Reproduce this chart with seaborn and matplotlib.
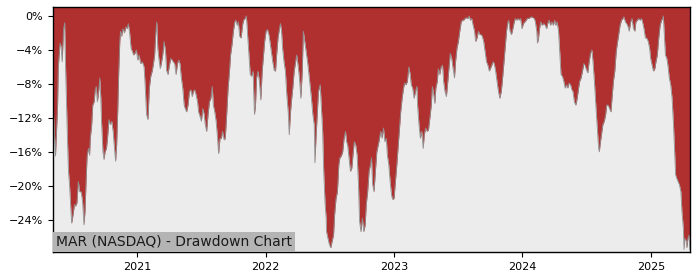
import matplotlib
matplotlib.use("Agg")
import matplotlib.pyplot as plt
import matplotlib.dates as mdates
from matplotlib.ticker import FuncFormatter, FixedLocator
import seaborn as sns
import pandas as pd

TITLE = "MAR (NASDAQ) - Drawdown Chart"

dates = [
    "2020-05-06", "2020-05-13", "2020-05-16", "2020-05-19", "2020-05-21", "2020-05-26", "2020-05-29",
    "2020-06-01", "2020-06-05", "2020-06-08", "2020-06-11", "2020-06-16", "2020-06-19", "2020-06-22",
    "2020-06-25", "2020-06-28", "2020-07-02", "2020-07-06", "2020-07-09", "2020-07-13", "2020-07-17",
    "2020-07-21", "2020-07-25", "2020-07-29", "2020-08-02", "2020-08-05", "2020-08-08", "2020-08-11",
    "2020-08-15", "2020-08-18", "2020-08-20", "2020-08-24", "2020-08-27", "2020-08-31", "2020-09-03",
    "2020-09-06", "2020-09-09", "2020-09-12", "2020-09-16", "2020-09-19", "2020-09-21", "2020-09-25",
    "2020-09-28", "2020-10-01", "2020-10-05", "2020-10-08", "2020-10-12", "2020-10-16", "2020-10-20",
    "2020-10-24", "2020-10-27", "2020-10-31", "2020-11-03", "2020-11-06", "2020-11-09", "2020-11-12",
    "2020-11-14", "2020-11-17", "2020-11-21", "2020-11-25", "2020-11-29", "2020-12-03", "2020-12-06",
    "2020-12-10", "2020-12-14", "2020-12-18", "2020-12-21", "2020-12-25", "2020-12-29",
    "2021-01-02", "2021-01-06", "2021-01-10", "2021-01-15", "2021-01-20", "2021-01-23", "2021-01-27",
    "2021-01-31", "2021-02-04", "2021-02-08", "2021-02-12", "2021-02-15", "2021-02-19", "2021-02-22",
    "2021-02-25", "2021-02-28", "2021-03-03", "2021-03-07", "2021-03-10", "2021-03-14", "2021-03-18",
    "2021-03-22", "2021-03-25", "2021-03-29", "2021-04-02", "2021-04-06", "2021-04-10", "2021-04-13",
    "2021-04-17", "2021-04-21", "2021-04-25", "2021-04-29", "2021-05-02", "2021-05-06", "2021-05-10",
    "2021-05-14", "2021-05-17", "2021-05-21", "2021-05-25", "2021-05-29", "2021-06-02", "2021-06-06",
    "2021-06-09", "2021-06-13", "2021-06-17", "2021-06-21", "2021-06-24", "2021-06-28", "2021-07-02",
    "2021-07-06", "2021-07-10", "2021-07-13", "2021-07-17", "2021-07-21", "2021-07-25", "2021-07-29",
    "2021-08-02", "2021-08-05", "2021-08-09", "2021-08-13", "2021-08-17", "2021-08-20", "2021-08-24",
    "2021-08-28", "2021-08-31", "2021-09-05", "2021-09-08", "2021-09-12", "2021-09-16", "2021-09-20",
    "2021-09-23", "2021-09-27", "2021-10-01", "2021-10-05", "2021-10-08", "2021-10-12", "2021-10-15",
    "2021-10-19", "2021-10-23", "2021-10-27", "2021-10-30", "2021-11-03", "2021-11-07", "2021-11-11",
    "2021-11-15", "2021-11-18", "2021-11-22", "2021-11-26", "2021-11-30", "2021-12-03", "2021-12-06",
    "2021-12-10", "2021-12-14", "2021-12-18", "2021-12-22", "2021-12-25", "2021-12-29",
    "2022-01-02", "2022-01-06", "2022-01-10", "2022-01-13", "2022-01-17", "2022-01-21", "2022-01-25",
    "2022-01-29", "2022-02-01", "2022-02-05", "2022-02-09", "2022-02-12", "2022-02-15", "2022-02-18",
    "2022-02-22", "2022-02-26", "2022-03-02", "2022-03-06", "2022-03-09", "2022-03-12", "2022-03-15",
    "2022-03-19", "2022-03-23", "2022-03-27", "2022-03-30", "2022-04-03", "2022-04-07", "2022-04-11",
    "2022-04-15", "2022-04-18", "2022-04-22", "2022-04-26", "2022-04-30", "2022-05-03", "2022-05-07",
    "2022-05-11", "2022-05-15", "2022-05-19", "2022-05-21", "2022-05-24", "2022-05-28", "2022-05-31",
    "2022-06-05", "2022-06-08", "2022-06-12", "2022-06-15", "2022-06-19", "2022-06-22", "2022-06-23",
    "2022-06-27", "2022-07-01", "2022-07-05", "2022-07-09", "2022-07-13", "2022-07-16", "2022-07-20",
    "2022-07-24", "2022-07-28", "2022-07-31", "2022-08-04", "2022-08-08", "2022-08-12", "2022-08-16",
    "2022-08-19", "2022-08-22", "2022-08-26", "2022-08-30", "2022-09-03", "2022-09-07", "2022-09-10",
    "2022-09-14", "2022-09-18", "2022-09-22", "2022-09-25", "2022-09-29", "2022-10-03", "2022-10-07",
    "2022-10-11", "2022-10-14", "2022-10-18", "2022-10-22", "2022-10-26", "2022-10-29", "2022-11-01",
    "2022-11-05", "2022-11-09", "2022-11-13", "2022-11-17", "2022-11-20", "2022-11-24", "2022-11-28",
    "2022-12-02", "2022-12-06", "2022-12-10", "2022-12-13", "2022-12-17", "2022-12-21", "2022-12-25",
    "2022-12-28",
    "2023-01-01", "2023-01-05", "2023-01-09", "2023-01-13", "2023-01-16", "2023-01-20", "2023-01-24",
    "2023-01-28", "2023-01-31", "2023-02-04", "2023-02-08", "2023-02-12", "2023-02-16", "2023-02-19",
    "2023-02-23", "2023-02-27", "2023-03-03", "2023-03-07", "2023-03-09", "2023-03-13", "2023-03-17",
    "2023-03-21", "2023-03-25", "2023-03-28", "2023-04-01", "2023-04-05", "2023-04-09", "2023-04-13",
    "2023-04-17", "2023-04-20", "2023-04-24", "2023-04-27", "2023-04-30", "2023-05-04", "2023-05-07",
    "2023-05-11", "2023-05-15", "2023-05-19", "2023-05-22", "2023-05-26", "2023-05-30", "2023-06-03",
    "2023-06-07", "2023-06-10", "2023-06-14", "2023-06-18", "2023-06-22", "2023-06-25", "2023-06-29",
    "2023-07-03", "2023-07-07", "2023-07-11", "2023-07-15", "2023-07-18", "2023-07-22", "2023-07-26",
    "2023-07-30", "2023-08-03", "2023-08-06", "2023-08-10", "2023-08-14", "2023-08-18", "2023-08-21",
    "2023-08-25", "2023-08-29", "2023-09-02", "2023-09-06", "2023-09-09", "2023-09-13", "2023-09-17",
    "2023-09-21", "2023-09-25", "2023-09-29", "2023-10-02", "2023-10-06", "2023-10-10", "2023-10-13",
    "2023-10-17", "2023-10-21", "2023-10-25", "2023-10-29", "2023-11-02", "2023-11-05", "2023-11-09",
    "2023-11-13", "2023-11-17", "2023-11-20", "2023-11-23", "2023-11-27", "2023-12-01", "2023-12-05",
    "2023-12-09", "2023-12-12", "2023-12-16", "2023-12-20", "2023-12-24", "2023-12-27", "2023-12-31",
    "2024-01-04", "2024-01-08", "2024-01-12", "2024-01-15", "2024-01-19", "2024-01-23", "2024-01-27",
    "2024-01-31", "2024-02-04", "2024-02-07", "2024-02-11", "2024-02-13", "2024-02-16", "2024-02-19",
    "2024-02-22", "2024-02-26", "2024-03-02", "2024-03-06", "2024-03-10", "2024-03-13", "2024-03-17",
    "2024-03-21", "2024-03-25", "2024-03-29", "2024-04-02", "2024-04-05", "2024-04-09", "2024-04-13",
    "2024-04-17", "2024-04-20", "2024-04-24", "2024-04-28", "2024-05-02", "2024-05-06", "2024-05-09",
    "2024-05-13", "2024-05-17", "2024-05-21", "2024-05-24", "2024-05-28", "2024-06-01", "2024-06-05",
    "2024-06-09", "2024-06-12", "2024-06-16", "2024-06-20", "2024-06-24", "2024-06-27", "2024-07-02",
    "2024-07-05", "2024-07-09", "2024-07-13", "2024-07-17", "2024-07-20", "2024-07-24", "2024-07-28",
    "2024-07-31", "2024-08-05", "2024-08-07", "2024-08-09", "2024-08-13", "2024-08-17", "2024-08-21",
    "2024-08-25", "2024-08-28", "2024-09-01", "2024-09-05", "2024-09-09", "2024-09-12", "2024-09-16",
    "2024-09-20", "2024-09-24", "2024-09-28", "2024-10-01", "2024-10-05", "2024-10-09", "2024-10-13",
    "2024-10-16", "2024-10-20", "2024-10-24", "2024-10-28", "2024-10-31", "2024-11-04", "2024-11-08",
    "2024-11-12", "2024-11-16", "2024-11-19", "2024-11-23", "2024-11-27", "2024-12-01", "2024-12-05",
    "2024-12-09", "2024-12-12", "2024-12-16", "2024-12-20", "2024-12-24", "2024-12-28", "2024-12-31",
    "2025-01-04", "2025-01-08", "2025-01-12", "2025-01-15", "2025-01-19", "2025-01-23", "2025-01-27",
    "2025-01-31", "2025-02-03", "2025-02-05", "2025-02-07", "2025-02-11", "2025-02-15", "2025-02-18",
    "2025-02-22", "2025-02-26", "2025-03-02", "2025-03-06", "2025-03-10", "2025-03-12", "2025-03-15",
    "2025-03-19", "2025-03-23", "2025-03-27", "2025-03-30", "2025-04-03", "2025-04-05", "2025-04-07",
    "2025-04-11", "2025-04-13", "2025-04-16", "2025-04-19", "2025-04-22",
]

drawdown_pct = [
    -10.2, -16.5, -13.6, -10.5, -6.0, -3.2, -3.6,
    -5.4, -1.6, -0.8, -6.5, -14.4, -18.3, -19.9,
    -22.2, -24.4, -23.4, -22.2, -22.4, -22.0, -19.5,
    -20.7, -20.7, -21.8, -24.6, -23.0, -19.5, -16.4,
    -15.6, -16.4, -14.4, -12.8, -10.5, -10.1, -8.7,
    -8.3, -10.1, -9.3, -7.3, -9.7, -12.4, -16.0,
    -16.9, -16.0, -15.6, -14.4, -12.2, -12.8, -12.4,
    -13.6, -15.2, -17.1, -15.2, -11.3, -6.5, -3.0,
    -1.8, -2.4, -1.5, -2.0, -1.3, -1.5, -0.9,
    -2.0, -3.8, -4.2, -4.6, -4.4, -4.0,
    -5.2, -4.6, -5.6, -5.4, -6.0, -8.1, -11.6,
    -12.2, -8.5, -7.1, -6.5, -5.8, -4.6, -2.2,
    -0.7, -3.8, -5.0, -6.2, -5.6, -4.6, -3.0,
    -4.2, -6.4, -6.9, -5.8, -5.0, -5.2, -5.4,
    -5.6, -6.9, -5.6, -5.2, -5.6, -7.3, -8.5,
    -10.5, -10.9, -11.3, -10.5, -8.9, -8.7, -9.5,
    -8.9, -8.7, -9.3, -10.1, -11.3, -11.8, -12.4,
    -10.9, -11.6, -12.8, -13.6, -11.6, -10.1, -9.7,
    -8.3, -10.5, -11.3, -12.4, -14.4, -16.2, -14.4,
    -14.4, -13.6, -14.6, -14.4, -11.6, -8.5, -6.5,
    -4.6, -3.4, -1.8, -0.7, -0.5, -1.1, -0.7,
    -2.4, -2.6, -1.1, -0.5, -0.3, 0.0, -2.6,
    -5.0, -6.9, -7.1, -6.5, -11.6, -10.5, -7.3,
    -6.5, -7.7, -9.9, -6.5, -5.0, -3.0,
    -1.8, -1.6, -2.2, -3.0, -4.2, -5.4, -6.4,
    -6.5, -4.6, -2.6, -1.5, -0.9, -1.8, -3.8,
    -5.4, -6.5, -9.3, -11.3, -14.0, -11.6, -10.1,
    -8.5, -6.5, -5.4, -4.6, -5.8, -7.3, -9.7,
    -6.5, -1.8, -3.0, -4.2, -5.4, -6.5, -8.1,
    -9.7, -11.6, -12.8, -17.3, -14.4, -11.3, -8.9,
    -8.1, -10.5, -13.6, -18.3, -22.2, -23.8, -25.4,
    -26.2, -26.9, -27.3, -26.5, -25.8, -23.4, -21.5,
    -20.7, -17.5, -16.7, -16.5, -16.0, -14.4, -13.6,
    -14.8, -15.2, -16.7, -18.3, -17.9, -16.0, -14.8,
    -15.2, -16.4, -19.9, -24.2, -25.4, -23.8, -25.4,
    -24.6, -22.2, -20.7, -18.3, -17.5, -16.7, -19.8,
    -20.7, -18.3, -16.0, -15.2, -14.6, -13.6, -14.4,
    -13.2, -14.8, -14.4, -16.4, -17.5, -19.5, -21.1,
    -21.6,
    -21.5, -19.5, -17.5, -15.2, -13.6, -11.3, -9.7,
    -8.5, -7.9, -8.1, -7.7, -6.0, -6.9, -8.1,
    -8.5, -9.7, -8.9, -8.3, -10.5, -12.8, -14.4,
    -13.6, -15.6, -14.0, -13.2, -13.6, -13.4, -12.0,
    -10.5, -8.3, -9.3, -10.3, -8.5, -7.7, -6.2,
    -6.9, -6.0, -5.8, -7.7, -8.9, -9.5, -7.7,
    -5.8, -4.4, -5.0, -6.2, -7.3, -5.4, -3.8,
    -3.0, -1.8, -0.7, -0.5, -0.5, -0.3, -0.2,
    -0.3, 0.0, -0.5, -0.3, -1.1, -1.8, -3.0,
    -2.6, -1.8, -2.2, -2.2, -2.4, -3.0, -4.2,
    -5.4, -5.8, -6.5, -6.2, -5.8, -5.4, -5.6,
    -6.5, -7.7, -8.9, -9.7, -8.9, -7.7, -5.8,
    -3.8, -1.8, -0.9, -0.5, -1.8, -2.2, -1.5,
    -0.7, -0.3, -0.5, -0.3, -0.5, -0.3, -1.5,
    -0.9, -0.7, -0.5, -0.3, -0.3, -0.2, -0.1,
    -0.2, -0.3, -0.7, -1.8, -3.2, -2.6, -1.5,
    -0.7, -1.1, -0.9, -1.1, -1.5, -0.9, -0.5,
    -1.1, -0.7, -1.1, -0.5, -1.1, -0.7, -1.8,
    -4.6, -6.9, -7.1, -7.7, -8.5, -8.1, -8.5,
    -7.9, -8.1, -8.7, -8.9, -10.1, -10.5, -9.7,
    -8.5, -7.7, -7.3, -6.5, -5.6, -5.8, -6.4,
    -6.7, -5.4, -4.4, -4.0, -5.4, -7.7, -10.5,
    -12.4, -15.6, -16.0, -15.2, -14.0, -12.8, -12.4,
    -11.6, -10.5, -10.5, -10.9, -11.3, -9.7, -7.7,
    -6.5, -4.2, -3.0, -2.2, -1.1, -0.5, -0.3,
    -0.1, -0.7, -0.9, -1.3, -1.8, -0.7, -0.3,
    -1.5, -1.8, -0.7, -0.5, -0.3, -0.5, -0.3,
    -0.9, -1.5, -2.6, -2.6, -3.0, -3.8, -5.0,
    -5.8, -6.5, -6.2, -5.4, -4.6, -2.6, -1.1,
    -0.5, -0.3, 0.0, -1.5, -4.6, -5.0, -5.8,
    -7.3, -8.1, -9.7, -12.8, -16.7, -18.7, -19.1,
    -19.5, -19.9, -20.7, -23.0, -25.0, -27.5, -26.2,
    -26.5, -27.3, -26.2, -25.8, -27.5,
]

y_ticks = [0, -4, -8, -12, -16, -20, -24]

RED = "#b03030"
PALE = "#ececec"

df = pd.DataFrame({"date": pd.to_datetime(dates), "dd": drawdown_pct})

fig = plt.figure(figsize=(7.0, 2.8), dpi=100)
ax = fig.add_axes([53 / 700, 1 - 252 / 280, (690 - 53) / 700, (252 - 7) / 280])
ax.set_facecolor(RED)

y_lo, y_hi = -27.8, 1.05
ax.fill_between(df["date"], df["dd"], y_lo - 5, color=PALE, linewidth=0, zorder=1)
sns.lineplot(data=df, x="date", y="dd", ax=ax, color="#909090", linewidth=0.6, zorder=2)

ax.set_xlim(df["date"].iloc[0], df["date"].iloc[-1])
ax.set_ylim(y_lo, y_hi)
ax.yaxis.set_major_locator(FixedLocator(y_ticks))
ax.yaxis.set_major_formatter(FuncFormatter(lambda v, p: f"{v:.0f}%".replace("-", "\u2212")))
ax.xaxis.set_major_locator(mdates.YearLocator())
ax.xaxis.set_major_formatter(mdates.DateFormatter("%Y"))
ax.tick_params(labelsize=8)
ax.set_xlabel("")
ax.set_ylabel("")
for s in ax.spines.values():
    s.set_color("black")
    s.set_linewidth(1.0)

ax.annotate(TITLE, xy=(0, 0), xycoords="axes fraction", xytext=(2.2, 2.3),
            textcoords="offset points", ha="left", va="bottom", fontsize=10,
            color="#1a1a1a", zorder=5,
            bbox=dict(facecolor="#b4b4b4", edgecolor="none", pad=2.0))

fig.savefig("out.png", dpi=100)
